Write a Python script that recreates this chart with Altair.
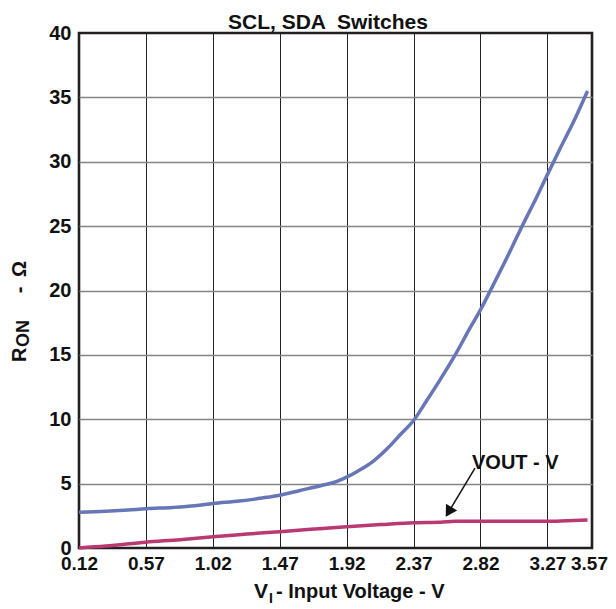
import altair as alt
import pandas as pd

# ---- data ----
vi_ron = [0.12, 0.3, 0.45, 0.57, 0.75, 0.9, 1.02, 1.2, 1.35, 1.47, 1.6, 1.75, 1.85, 1.92,
          2.0, 2.1, 2.2, 2.28, 2.37, 2.45, 2.55, 2.65, 2.75, 2.82, 2.9, 3.0, 3.1, 3.2,
          3.27, 3.35, 3.45, 3.54]
ron = [2.77, 2.85, 2.95, 3.05, 3.15, 3.28, 3.45, 3.65, 3.88, 4.1, 4.45, 4.85, 5.15, 5.5,
       6.0, 6.75, 7.8, 8.8, 9.9, 11.3, 13.1, 15.0, 17.1, 18.5, 20.3, 22.6, 25.0, 27.3,
       29.0, 30.9, 33.2, 35.5]

vi_vout = [0.12, 0.3, 0.57, 0.8, 1.02, 1.25, 1.47, 1.7, 1.92, 2.15, 2.37, 2.55, 2.65,
           2.82, 3.27, 3.4, 3.54]
vout = [0.0, 0.15, 0.45, 0.65, 0.88, 1.08, 1.27, 1.47, 1.65, 1.82, 1.97, 2.0, 2.07,
        2.07, 2.07, 2.12, 2.18]

x_ticks = [0.12, 0.57, 1.02, 1.47, 1.92, 2.37, 2.82, 3.27, 3.57]
y_ticks = [0, 5, 10, 15, 20, 25, 30, 35, 40]

annot_label = ["VOUT - V"]
annot_pos = [2.763, 6.14]          # text anchor (V, ohm)
arrow_start = [2.783, 6.21]
arrow_head = [2.606, 2.80]

title_text = "SCL, SDA \u00a0Switches"

BLUE = "#6776b6"
MAGENTA = "#b93a72"
FONT = "Liberation Sans"

df = pd.concat([
    pd.DataFrame({"vi": vi_ron, "val": ron, "series": "RON"}),
    pd.DataFrame({"vi": vi_vout, "val": vout, "series": "VOUT"}),
])

xscale = alt.Scale(domain=[0.12, 3.57], nice=False, zero=False)
yscale = alt.Scale(domain=[0, 40], nice=False)

xaxis = alt.Axis(values=x_ticks, format=".2f", title=None, grid=True,
                 gridColor="#222222", gridWidth=1, domain=False, ticks=False,
                 labelFont=FONT, labelFontSize=19, labelFontWeight="bold",
                 labelColor="#111111", labelPadding=6, labelFlush=False,
                 labelOverlap=False,
                 labelOffset={"condition": {"test": "datum.value > 3.5", "value": -3},
                              "value": 0})
yaxis = alt.Axis(values=y_ticks, title=None, grid=True,
                 gridColor="#848484", gridWidth=1.6,
                 gridOpacity={"condition": {"test": "datum.value == 0 || datum.value == 40",
                                            "value": 0}, "value": 1},
                 domain=False, ticks=False,
                 labelFont=FONT, labelFontSize=20, labelFontWeight="bold",
                 labelColor="#111111", labelPadding=8, labelFlush=False,
                 labelOverlap=False)

lines = alt.Chart(df).mark_line(strokeWidth=3.5, interpolate="monotone").encode(
    x=alt.X("vi:Q", scale=xscale, axis=xaxis),
    y=alt.Y("val:Q", scale=yscale, axis=yaxis),
    color=alt.Color("series:N", scale=alt.Scale(domain=["RON", "VOUT"],
                                                range=[BLUE, MAGENTA]), legend=None),
    detail="series:N",
)

arrow_df = pd.DataFrame({"x": [arrow_start[0]], "y": [arrow_start[1]],
                         "x2": [arrow_head[0]], "y2": [arrow_head[1]]})
arrow_line = alt.Chart(arrow_df).mark_rule(color="#111111", strokeWidth=1.5).encode(
    x=alt.X("x:Q", scale=xscale), y=alt.Y("y:Q", scale=yscale),
    x2="x2:Q", y2="y2:Q")
arrow_tip = alt.Chart(arrow_df).mark_point(shape="triangle-up", filled=True, size=170,
                                           angle=211, color="#111111", opacity=1).encode(
    x=alt.X("x2:Q", scale=xscale), y=alt.Y("y2:Q", scale=yscale))

annot_df = pd.DataFrame({"x": [annot_pos[0]], "y": [annot_pos[1]], "t": annot_label})
annot = alt.Chart(annot_df).mark_text(align="left", baseline="alphabetic", font=FONT,
                                      fontSize=20, fontWeight="bold",
                                      color="#111111").encode(
    x=alt.X("x:Q", scale=xscale), y=alt.Y("y:Q", scale=yscale), text="t:N")

one = pd.DataFrame({"k": [0]})

def label(text, x, y, size=20, align="left", angle=0):
    return alt.Chart(one).mark_text(text=text, align=align, baseline="alphabetic",
                                    font=FONT, fontSize=size, fontWeight="bold",
                                    angle=angle, color="#111111").encode(
        x=alt.value(x), y=alt.value(y))

title = label(title_text, 249, -4, size=21, align="center")
xt1 = label("V", 189, 565, size=21, align="right")
xt2 = label("I", 190, 570, size=14)
xt3 = label("- Input Voltage - V", 197, 565, size=20)
yt1 = label("R", -53, 329, size=20, angle=270)
yt2 = label("ON", -50, 314, size=18, angle=270)
yt3 = label("-", -53, 257, size=20, align="center", angle=270)
yt4 = label("\u03a9", -53, 236, size=20, align="center", angle=270)

chart = alt.layer(lines, arrow_line, arrow_tip, annot, title,
                  xt1, xt2, xt3, yt1, yt2, yt3, yt4).properties(
    width=513, height=515, autosize="none",
    padding={"left": 71, "top": 25, "right": 16, "bottom": 60},
).configure_view(stroke="#231f20", strokeWidth=2.6)

chart.save("out.html", embed_options={"renderer": "svg", "actions": False})
